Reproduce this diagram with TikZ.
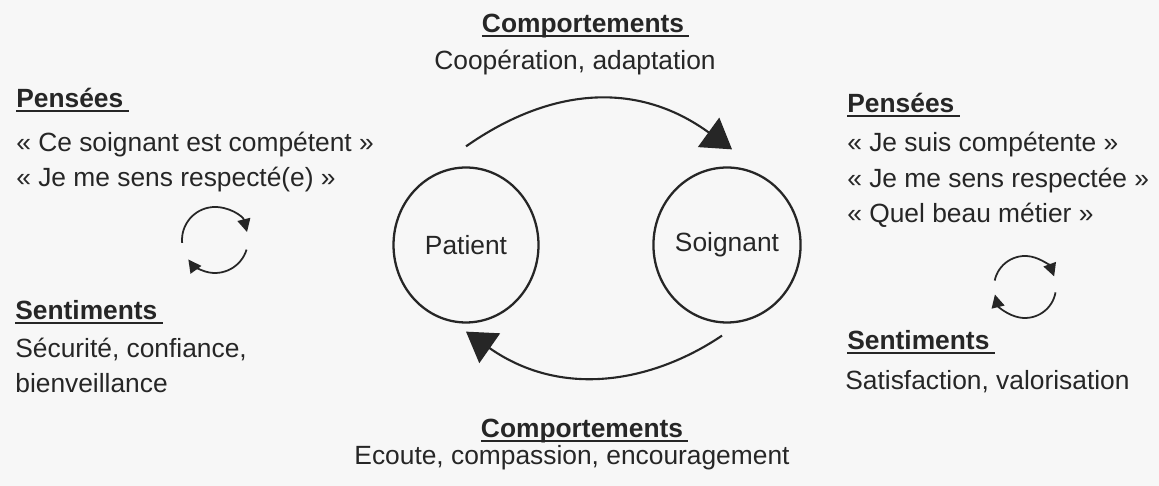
\documentclass[tikz,border=0pt]{standalone}
\usepackage{fontspec}
\setmainfont{Liberation Sans}
\usetikzlibrary{arrows.meta,shapes.geometric}
\newcommand\souligne[1]{\setbox0\hbox{#1\hspace{0.2em}}\rlap{\rule[-2.4pt]{\wd0}{1.1pt}}#1}
\tikzstyle{titre}=[font=\fontsize{15}{18}\selectfont\bfseries, text=black!85, inner sep=0pt]
\tikzstyle{texte}=[font=\fontsize{15}{18}\selectfont, text=black!85, inner sep=0pt]
\tikzstyle{acteur}=[ellipse, draw=black!85, line width=1.3pt, minimum width=2.9cm,
minimum height=3.1cm, inner sep=0pt, font=\fontsize{15}{18}\selectfont, text=black!85]
\tikzstyle{boucle}=[line width=1.2pt, draw=black!85, -{Triangle[length=0.58cm,width=0.72cm]}]
\tikzstyle{petitcycle}=[line width=1pt, draw=black!85, -{Triangle[length=0.26cm,width=0.26cm]}]

\begin{document}
\begin{tikzpicture}[x=0.02cm,y=0.02cm]
			\fill[black!3] (0,0) rectangle (1159,486);
			\useasboundingbox (0,0) rectangle (1159,486);

			\node[acteur] (patient) at (466,241) {Patient};
			\node[acteur] (soignant) at (727,241) {Soignant};

			\draw[boucle] ([yshift=0.4cm]patient.north) .. controls +(35:100) and +(144:120) .. ([xshift=0.1cm,yshift=0.34cm]soignant.north);
			\draw[boucle] ([xshift=-0.1cm,yshift=-0.24cm]soignant.south) .. controls +(214:80) and +(325:120) .. ([yshift=-0.16cm]patient.south);

			\node[titre, anchor=base] (compHaut) at (583,453) {\souligne{Comportements}};
			\node[texte, anchor=base] (compHautTxt) at (575,416) {Coopération, adaptation};
			\node[titre, anchor=base] (compBas) at (582,48) {\souligne{Comportements}};
			\node[texte, anchor=base] (compBasTxt) at (572,21) {Ecoute, compassion, encouragement};

			\node[titre, anchor=base west] (penseesP) at (16,378) {\souligne{Pensées}};
			\node[texte, anchor=base west] (penseesP1) at (16,334) {« Ce soignant est compétent »};
			\node[texte, anchor=base west] (penseesP2) at (16,299) {« Je me sens respecté(e) »};
			\node[titre, anchor=base west] (sentimentsP) at (15,166) {\souligne{Sentiments}};
			\node[texte, anchor=base west] (sentimentsP1) at (15,128) {Sécurité, confiance,};
			\node[texte, anchor=base west] (sentimentsP2) at (15,93) {bienveillance};

			\node[titre, anchor=base west] (penseesS) at (847,373) {\souligne{Pensées}};
			\node[texte, anchor=base west] (penseesS1) at (847,334) {« Je suis compétente »};
			\node[texte, anchor=base west] (penseesS2) at (847,298) {« Je me sens respectée »};
			\node[texte, anchor=base west] (penseesS3) at (847,263) {« Quel beau métier »};
			\node[titre, anchor=base west] (sentimentsS) at (847,136) {\souligne{Sentiments}};
			\node[texte, anchor=base west] (sentimentsS1) at (845,96) {Satisfaction, valorisation};

			\coordinate (cycleP) at (215,246);
			\draw[petitcycle] (cycleP) ++(185:0.66cm) arc[start angle=185, end angle=14, radius=0.66cm];
			\draw[petitcycle] (cycleP) ++(-17:0.66cm) arc[start angle=-17, end angle=-144, radius=0.66cm];
			\coordinate (cycleS) at (1025,199);
			\draw[petitcycle] (cycleS) ++(168:0.62cm) arc[start angle=168, end angle=20, radius=0.62cm];
			\draw[petitcycle] (cycleS) ++(-10:0.62cm) arc[start angle=-10, end angle=-166, radius=0.62cm];
		\end{tikzpicture}
\end{document}
